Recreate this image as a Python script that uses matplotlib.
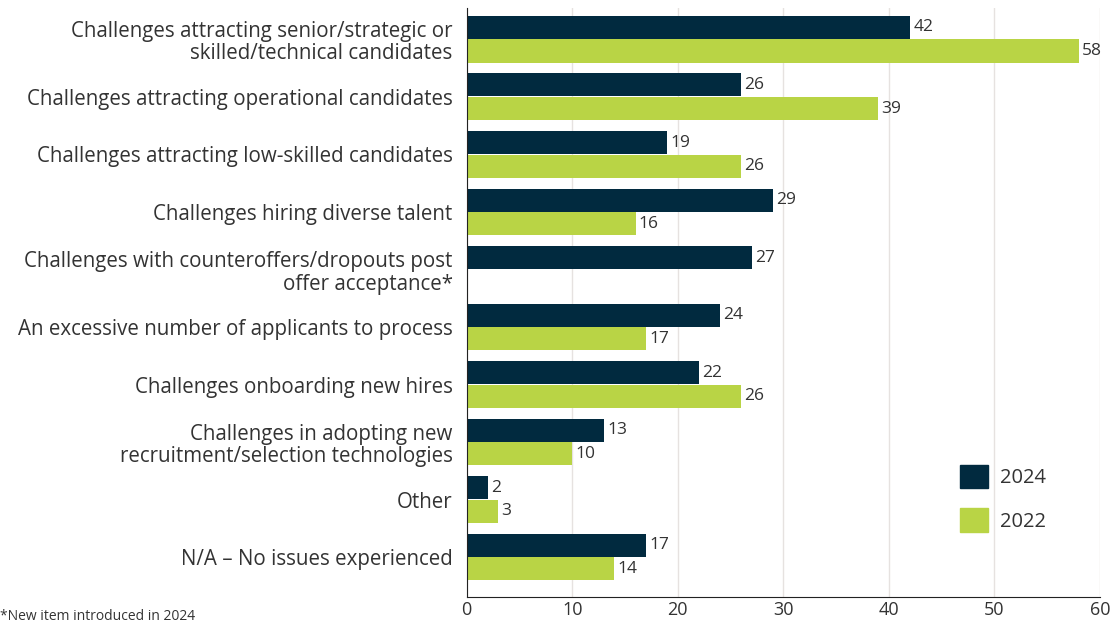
import matplotlib.pyplot as plt
import numpy as np

categories = [
    "Challenges attracting senior/strategic or\nskilled/technical candidates",
    "Challenges attracting operational candidates",
    "Challenges attracting low-skilled candidates",
    "Challenges hiring diverse talent",
    "Challenges with counteroffers/dropouts post\noffer acceptance*",
    "An excessive number of applicants to process",
    "Challenges onboarding new hires",
    "Challenges in adopting new\nrecruitment/selection technologies",
    "Other",
    "N/A \u2013 No issues experienced",
]
values_2024 = [42, 26, 19, 29, 27, 24, 22, 13, 2, 17]
values_2022 = [58, 39, 26, 16, None, 17, 26, 10, 3, 14]
x_ticks = [0, 10, 20, 30, 40, 50, 60]

navy = "#012a3f"
lime = "#b9d445"
text_col = "#333333"

plt.rcParams["font.family"] = ["Open Sans", "DejaVu Sans"]

fig = plt.figure(figsize=(11.19, 6.25), dpi=100)
ax = fig.add_axes([0.417, 0.045, 0.566, 0.942])

y = np.arange(len(categories))
h = 0.4
off = 0.205

for i, (a, b) in enumerate(zip(values_2024, values_2022)):
    ax.barh(y[i] - off, a, height=h, color=navy, zorder=3)
    ax.text(a + 0.3, y[i] - off, str(a), va="center", ha="left",
            fontsize=12.5, color=text_col)
    if b is not None:
        ax.barh(y[i] + off, b, height=h, color=lime, zorder=3)
        ax.text(b + 0.3, y[i] + off, str(b), va="center", ha="left",
                fontsize=12.5, color=text_col)

ax.set_xlim(0, 60)
ax.set_ylim(9.69, -0.54)
ax.set_yticks(y)
ax.set_yticklabels(categories, fontsize=14.8, color=text_col, ha="right",
                   linespacing=1.1)
ax.tick_params(axis="y", length=0, pad=10)
ax.set_xticks(x_ticks)
ax.set_xticklabels([str(t) for t in x_ticks], fontsize=13, color=text_col)
ax.tick_params(axis="x", length=0, pad=3)

ax.grid(axis="x", color="#e6e2e0", linewidth=1, zorder=0)
for s in ["top", "right"]:
    ax.spines[s].set_visible(False)
ax.spines["left"].set_color("#222222")
ax.spines["bottom"].set_color("#222222")
ax.spines["left"].set_zorder(4)

# legend
handles = [plt.Rectangle((0, 0), 1, 1, color=navy),
           plt.Rectangle((0, 0), 1, 1, color=lime)]
ax.legend(handles, ["2024", "2022"], loc="lower left",
          bbox_to_anchor=(0.75, 0.08), frameon=False, fontsize=14.5,
          handlelength=1.4, handleheight=1.4, labelspacing=1.0,
          handletextpad=0.6, labelcolor=text_col)

fig.text(0.0, 0.002, "*New item introduced in 2024", fontsize=10,
         color=text_col, ha="left", va="bottom")

fig.savefig("out.png", dpi=100)
